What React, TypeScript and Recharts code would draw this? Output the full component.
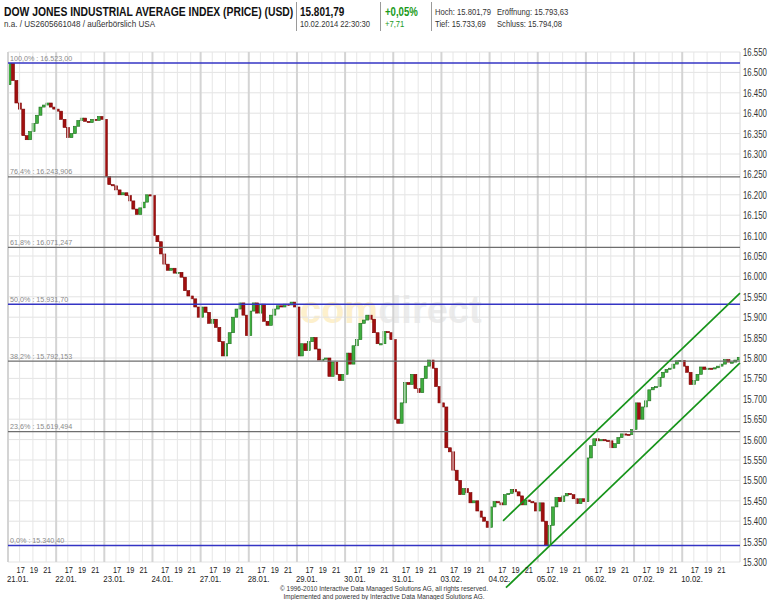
import React from 'react';
import {
  ComposedChart,
  Bar,
  XAxis,
  YAxis,
  CartesianGrid,
  ReferenceLine,
} from 'recharts';

// Handelstage
const dayLabels = [
  '21.01.', '22.01.', '23.01.', '24.01.', '27.01.', '28.01.', '29.01.', '30.01.',
  '31.01.', '03.02.', '04.02.', '05.02.', '06.02.', '07.02.', '10.02.',
];
const hourLabels = [17, 19, 21];
// Handelszeit je Tag (MEZ), nur für die Achsenteilung
const dayStart = 15.25;
const dayLen = 7.25;

// Schlusskurse, etwa halbstündlich
const firstOpen = 16470;
const s2101 = [16522, 16480, 16425, 16410, 16345, 16335, 16355, 16375, 16395, 16415, 16420, 16425, 16415, 16410];
const s2201 = [16405, 16385, 16365, 16340, 16350, 16368, 16382, 16388, 16380, 16377, 16385, 16382, 16392, 16385];
const s2301 = [16245, 16225, 16222, 16212, 16200, 16205, 16198, 16185, 16165, 16152, 16168, 16182, 16200, 16198];
const s2401 = [16100, 16085, 16055, 16030, 16015, 16020, 16008, 16010, 15998, 15965, 15952, 15945, 15925, 15900];
const s2701 = [15925, 15912, 15885, 15895, 15875, 15840, 15805, 15835, 15862, 15900, 15920, 15935, 15905, 15855];
const s2801 = [15915, 15935, 15910, 15932, 15890, 15880, 15905, 15920, 15928, 15925, 15932, 15930, 15937, 15925];
const s2901 = [15805, 15835, 15818, 15840, 15850, 15822, 15795, 15797, 15800, 15755, 15790, 15760, 15745, 15760];
const s3001 = [15812, 15785, 15830, 15845, 15885, 15893, 15905, 15895, 15862, 15835, 15835, 15865, 15862, 15845];
const s3101 = [15650, 15640, 15690, 15740, 15735, 15760, 15725, 15715, 15750, 15780, 15795, 15775, 15730, 15690];
const s0302 = [15680, 15580, 15570, 15525, 15500, 15465, 15480, 15470, 15445, 15450, 15425, 15410, 15400, 15385];
const s0402 = [15435, 15448, 15445, 15440, 15465, 15468, 15478, 15472, 15462, 15440, 15452, 15448, 15445, 15425];
const s0502 = [15445, 15400, 15342, 15390, 15435, 15458, 15448, 15462, 15468, 15465, 15455, 15443, 15455, 15448];
const s0602 = [15555, 15585, 15602, 15597, 15600, 15598, 15597, 15580, 15590, 15605, 15614, 15613, 15612, 15625];
const s0702 = [15690, 15650, 15680, 15695, 15722, 15728, 15730, 15752, 15765, 15772, 15775, 15785, 15793, 15794];
const s1002 = [15780, 15765, 15735, 15745, 15760, 15778, 15772, 15775, 15774, 15776, 15780, 15785, 15796, 15790, 15790, 15795, 15801.79];
const sessions = [s2101, s2201, s2301, s2401, s2701, s2801, s2901, s3001, s3101, s0302, s0402, s0502, s0602, s0702, s1002];
const perDay = 14;

// Preisachse
const priceTicks = [
  15300, 15350, 15400, 15450, 15500, 15550, 15600, 15650, 15700, 15750, 15800, 15850, 15900,
  15950, 16000, 16050, 16100, 16150, 16200, 16250, 16300, 16350, 16400, 16450, 16500, 16550,
];

// Fibonacci-Retracements
const fibPct = ['100,0%', '76,4%', '61,8%', '50,0%', '38,2%', '23,6%', '0,0%'];
const fibLevels = [16523.0, 16243.906, 16071.247, 15931.7, 15792.153, 15619.494, 15340.4];
const fibText = ['16.523,00', '16.243,906', '16.071,247', '15.931,70', '15.792,153', '15.619,494', '15.340,40'];

// Trendkanal
const channelUpper = [{ x: 10.28, y: 15401 }, { x: 15.2, y: 15959 }];
const channelLower = [{ x: 10.34, y: 15237 }, { x: 15.2, y: 15788 }];

const candles: { t: number; body: number[]; up: boolean }[] = [];
let prev = firstOpen;
sessions.forEach((closes, d) => {
  closes.forEach((c, i) => {
    candles.push({ t: d + (i + 0.5) / perDay, body: [Math.min(prev, c), Math.max(prev, c)], up: c >= prev });
    prev = c;
  });
});

const hourPos = (h: number) => (h - dayStart) / dayLen;
const xTicks: number[] = [];
dayLabels.forEach((_, d) => {
  xTicks.push(d);
  hourLabels.forEach((h) => xTicks.push(d + hourPos(h)));
});

const fmtPrice = (v: number) => `${Math.floor(v / 1000)}.${String(v % 1000).padStart(3, '0')}`;

const font = 'Arial, "Liberation Sans", sans-serif';

const Candle = (props: any) => {
  const { x, y, width, height, payload } = props;
  if (x == null || y == null) return null;
  const up = payload.up;
  return (
    <rect
      x={x}
      y={y}
      width={width}
      height={Math.max(height, 1.2)}
      fill={up ? '#3fae3f' : '#a10f0f'}
      stroke={up ? '#1d6e1d' : '#7a0000'}
      strokeWidth={0.6}
    />
  );
};

// schmale Schrift über horizontale Stauchung
const Squeezed = ({ x, y, sx, anchor, size, fill, bold, children }: any) => (
  <g transform={`translate(${x},${y}) scale(${sx},1)`}>
    <text x={0} y={0} fontSize={size} fill={fill} fontFamily={font} fontWeight={bold ? 'bold' : 'normal'} textAnchor={anchor || 'start'}>
      {children}
    </text>
  </g>
);

const XTick = (props: any) => {
  const { x, y, payload } = props;
  const v = payload.value;
  const d = Math.round(v);
  if (Math.abs(v - d) < 1e-6) {
    return (
      <Squeezed x={x - 1} y={y + 20} sx={0.82} size={9.5} fill="#222">
        {dayLabels[d]}
      </Squeezed>
    );
  }
  const hour = Math.round(dayStart + (v - Math.floor(v)) * dayLen);
  return (
    <Squeezed x={x + 1} y={y + 10.5} sx={0.77} size={9.5} fill="#222" anchor="middle">
      {hour}
    </Squeezed>
  );
};

const YTick = (props: any) => {
  const { x, y, payload } = props;
  return (
    <Squeezed x={x + 1} y={y + 4} sx={0.78} size={10} fill="#333">
      {fmtPrice(payload.value)}
    </Squeezed>
  );
};

const App: React.FC = () => {
  return (
    <div style={{ position: 'relative', width: 768, height: 600, background: '#fff', overflow: 'hidden', fontFamily: font }}>
      <style>{'body{margin:0}'}</style>

      {/* Wasserzeichen */}
      <svg width={768} height={600} style={{ position: 'absolute', left: 0, top: 0 }}>
        <text x={300} y={323} fontSize={38} fontWeight="bold" fontFamily={font}>
          <tspan fill="#fdf0cc">com</tspan>
          <tspan fill="#ececec">direct</tspan>
        </text>
      </svg>

      <div style={{ position: 'absolute', left: 0, top: 0 }}>
        <ComposedChart width={768} height={600} data={candles} margin={{ top: 52, right: 0, bottom: 0, left: 8 }}>
          <CartesianGrid vertical={false} stroke="#e3e3e3" />
          <XAxis
            type="number"
            dataKey="t"
            domain={[0, 15.2]}
            ticks={xTicks}
            interval={0}
            allowDataOverflow
            tick={<XTick />}
            tickLine={false}
            axisLine={false}
            tickSize={0}
            tickMargin={0}
            height={38}
          />
          <YAxis
            orientation="right"
            domain={[15300, 16550]}
            ticks={priceTicks}
            interval={0}
            allowDataOverflow
            tick={<YTick />}
            tickLine={false}
            axisLine={false}
            tickSize={0}
            tickMargin={2}
            width={28}
          />
          {xTicks.map((t) => {
            const major = Math.abs(t - Math.round(t)) < 1e-6;
            return (
              <ReferenceLine
                key={`v${t}`}
                x={t}
                stroke={major ? '#d4d4d4' : '#e6e6e6'}
                strokeWidth={major ? 2 : 1}
              />
            );
          })}
          <ReferenceLine x={15.2} stroke="#d8d8d8" />
          {fibLevels.map((lv, i) => {
            const blue = i === 0 || i === 3 || i === 6;
            return (
              <ReferenceLine
                key={`f${i}`}
                y={lv}
                stroke={blue ? '#3434c4' : '#6e6e6e'}
                strokeWidth={1.3}
                label={(p: any) => (
                  <text x={p.viewBox.x + 2} y={p.viewBox.y - 2.5} fontSize={7.2} fill="#8a8a8a" fontFamily={font}>
                    {`${fibPct[i]} : ${fibText[i]}`}
                  </text>
                )}
              />
            );
          })}
          <Bar dataKey="body" barSize={3} shape={<Candle />} isAnimationActive={false} />
          <ReferenceLine segment={channelUpper} stroke="#16941a" strokeWidth={1.7} ifOverflow="visible" />
          <ReferenceLine segment={channelLower} stroke="#16941a" strokeWidth={1.7} ifOverflow="visible" />
        </ComposedChart>
      </div>

      {/* Kopfzeile und Copyright */}
      <svg width={768} height={600} style={{ position: 'absolute', left: 0, top: 0, pointerEvents: 'none' }}>
        <Squeezed x={4} y={15.5} sx={0.83} size={12.5} fill="#111" bold>
          DOW JONES INDUSTRIAL AVERAGE INDEX (PRICE) (USD)
        </Squeezed>
        <Squeezed x={4} y={27} sx={0.9} size={9} fill="#333">
          n.a. / US2605661048 / außerbörslich USA
        </Squeezed>
        <line x1={296.5} x2={296.5} y1={2} y2={31} stroke="#9a9a9a" />
        <line x1={380.5} x2={380.5} y1={2} y2={31} stroke="#9a9a9a" />
        <line x1={431.5} x2={431.5} y1={2} y2={31} stroke="#9a9a9a" />
        <Squeezed x={300} y={15.5} sx={0.8} size={12.5} fill="#111" bold>15.801,79</Squeezed>
        <Squeezed x={300} y={27} sx={0.85} size={9} fill="#333">10.02.2014 22:30:30</Squeezed>
        <Squeezed x={385} y={15.5} sx={0.8} size={12} fill="#1a9a1a" bold>+0,05%</Squeezed>
        <Squeezed x={385} y={27} sx={0.85} size={9} fill="#1a9a1a">+7,71</Squeezed>
        <Squeezed x={435} y={14.5} sx={0.85} size={9} fill="#333">Hoch: 15.801,79</Squeezed>
        <Squeezed x={497} y={14.5} sx={0.85} size={9} fill="#333">Eröffnung: 15.793,63</Squeezed>
        <Squeezed x={435} y={27} sx={0.85} size={9} fill="#333">Tief: 15.733,69</Squeezed>
        <Squeezed x={497} y={27} sx={0.85} size={9} fill="#333">Schluss: 15.794,08</Squeezed>

        <Squeezed x={384} y={590.5} sx={0.92} size={7} fill="#333" anchor="middle">
          © 1996-2010 Interactive Data Managed Solutions AG, all rights reserved.
        </Squeezed>
        <Squeezed x={384} y={598.5} sx={0.92} size={7} fill="#333" anchor="middle">
          Implemented and powered by Interactive Data Managed Solutions AG.
        </Squeezed>
      </svg>
    </div>
  );
};

export default App;
